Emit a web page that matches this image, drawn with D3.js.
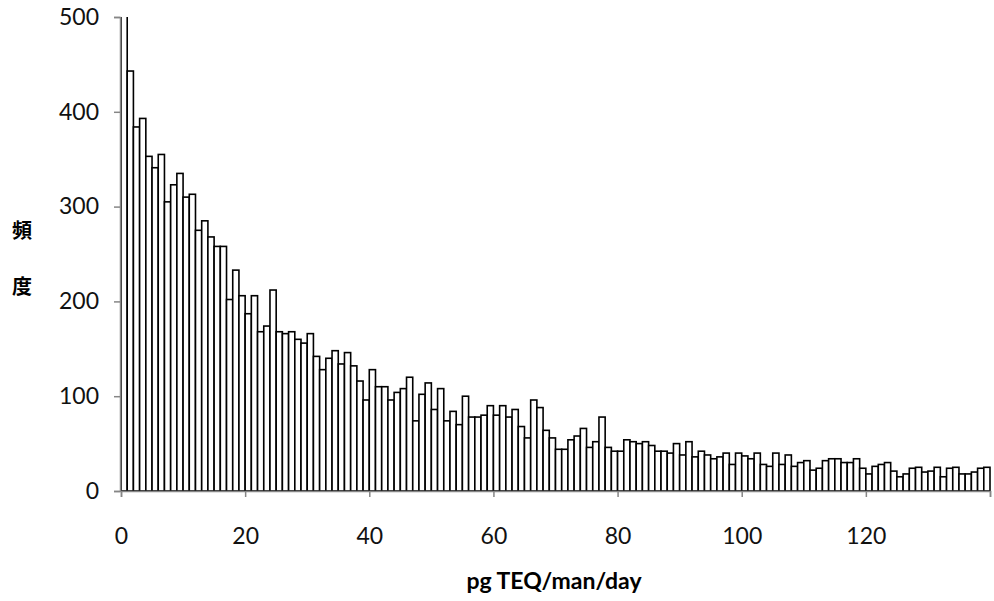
<!DOCTYPE html>
<html>
<head>
<meta charset="utf-8">
<script src="https://d3js.org/d3.v7.min.js"></script>
<style>
  body { margin: 0; background: #fff; }
  svg { display: block; }
</style>
</head>
<body>
<svg id="chart" width="994" height="601"></svg>
<script>
// frequency of each 1 pg-wide bin, bin 0..139 (first bin runs off the top)
const counts = [
  530, 443, 384, 393, 353, 341, 355, 305, 323, 335,
  310, 313, 275, 285, 268, 258, 258, 202, 233, 206,
  187, 206, 168, 174, 212, 168, 166, 168, 160, 156,
  166, 142, 128, 140, 148, 134, 146, 132, 116, 96,
  128, 110, 110, 96, 104, 108, 120, 74, 102, 114,
  86, 108, 74, 84, 70, 100, 78, 78, 80, 90,
  80, 90, 78, 86, 68, 56, 96, 88, 64, 56,
  44, 44, 54, 58, 66, 46, 52, 78, 46, 42,
  42, 54, 52, 50, 52, 48, 42, 42, 40, 50,
  38, 52, 36, 42, 38, 34, 36, 40, 28, 40,
  37, 34, 40, 28, 26, 40, 28, 38, 26, 30,
  32, 22, 24, 32, 34, 34, 30, 30, 34, 24,
  18, 26, 28, 30, 21, 15, 18, 24, 25, 20,
  21, 25, 15, 24, 25, 18, 18, 20, 24, 25
]
const xTicks = [0, 20, 40, 60, 80, 100, 120, 140]
const yTicks = [0, 100, 200, 300, 400, 500]
const xTitle = "pg TEQ/man/day"
const yTitle = ["頻", "度"]

const svg = d3.select("#chart")

const x = d3.scaleLinear().domain([0, 140]).range([121, 990])
const y = d3.scaleLinear().domain([0, 500]).range([491, 17])

svg.append("clipPath").attr("id", "plot")
  .append("rect")
  .attr("x", x(0) - 2).attr("y", y(500))
  .attr("width", x(140) - x(0) + 4).attr("height", y(0) - y(500))

// bars
svg.append("g")
  .attr("clip-path", "url(#plot)")
  .selectAll("rect")
  .data(counts)
  .enter().append("rect")
  .attr("x", (d, i) => x(i))
  .attr("y", d => y(d))
  .attr("width", (d, i) => x(i + 1) - x(i))
  .attr("height", d => y(0) - y(d))
  .attr("fill", "#fff")
  .attr("stroke", "#000")
  .attr("stroke-width", 1.6)

// y axis
const yAxis = svg.append("g")
  .attr("transform", `translate(${x(0) - 1},0)`)
  .call(d3.axisLeft(y).tickValues(yTicks).tickSize(6).tickPadding(15))
yAxis.select(".domain").attr("stroke", "#868686").attr("stroke-width", 1.5)
yAxis.selectAll(".tick line").attr("stroke", "#868686").attr("stroke-width", 1.5)
yAxis.selectAll("text")
  .attr("font-family", "Lato, 'Open Sans', sans-serif")
  .attr("font-size", 23)
  .attr("fill", "#111")

// x axis
const xAxis = svg.append("g")
  .attr("transform", `translate(0,${y(0)})`)
  .call(d3.axisBottom(x).tickValues(xTicks).tickSize(6).tickPadding(31)
    .tickFormat(d => d === 140 ? "" : d))
xAxis.select(".domain").attr("stroke", "#868686").attr("stroke-width", 1.5)
xAxis.selectAll(".tick line").attr("stroke", "#868686").attr("stroke-width", 1.5)
xAxis.selectAll("text")
  .attr("font-family", "Lato, 'Open Sans', sans-serif")
  .attr("font-size", 23)
  .attr("fill", "#111")

// titles
svg.append("text")
  .attr("x", 554).attr("y", 589)
  .attr("text-anchor", "middle")
  .attr("font-family", "Lato, 'Open Sans', sans-serif")
  .attr("font-weight", "bold")
  .attr("font-size", 23)
  .text(xTitle)

svg.selectAll(".ytitle")
  .data(yTitle)
  .enter().append("text")
  .attr("class", "ytitle")
  .attr("x", 22)
  .attr("y", (d, i) => 238 + i * 56)
  .attr("text-anchor", "middle")
  .attr("font-family", "'Noto Sans CJK JP', sans-serif")
  .attr("font-weight", "bold")
  .attr("font-size", 20)
  .text(d => d)
</script>
</body>
</html>
